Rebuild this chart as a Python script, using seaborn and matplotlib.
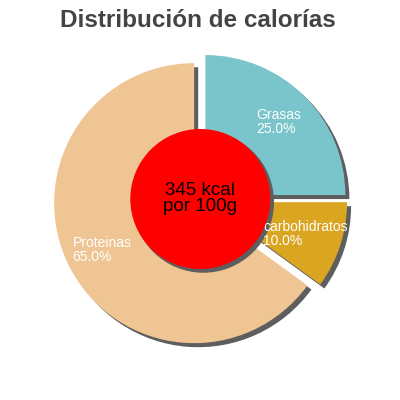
import matplotlib
matplotlib.use("Agg")
import matplotlib.pyplot as plt
import matplotlib.patches as mpatches
import seaborn as sns

# chart data
categories = ["Proteinas", "carbohidratos", "Grasas"]
percentages = [65.0, 10.0, 25.0]
slice_colors = ["#efc593", "#daa520", "#7ac4cc"]
center_text = "345 kcal\npor 100g"
title_text = "Distribución de calorías"

sns.set_theme(style="white")
plt.rcParams['font.family'] = ['Liberation Sans', 'DejaVu Sans']

fig = plt.figure(figsize=(4, 4), dpi=100)
ax = fig.add_axes([0, 0, 1, 1])

shadow_gray = "#5e5e5e"
labels = [f"{c}\n{p:.1f}%" for c, p in zip(categories, percentages)]

wedges, texts = ax.pie(
    percentages,
    labels=labels,
    colors=slice_colors,
    startangle=90,
    explode=[7, 7, 7],
    radius=140,
    center=(200.4, 200),
    labeldistance=0.74,
    frame=True,
    shadow={'ox': 2.9, 'oy': -2.9, 'facecolor': shadow_gray,
            'edgecolor': shadow_gray, 'alpha': 1},
    wedgeprops={'linewidth': 0},
    textprops={'color': 'white', 'fontsize': 10, 'ha': 'center',
               'va': 'center', 'multialignment': 'left', 'linespacing': 1.05},
)

# red disc in the middle with its own shadow
disc = mpatches.Circle((200.3, 201), 70, facecolor="#ff0000", edgecolor="none", zorder=3)
ax.add_patch(disc)
ax.add_patch(mpatches.Shadow(disc, 2.2, -2.2, facecolor=shadow_gray,
                             edgecolor=shadow_gray, alpha=1))
ax.text(200.3, 201.5, center_text, ha='center', va='center', fontsize=13.5,
        color='black', linespacing=0.95, zorder=4)

ax.set_xlim(0, 400)
ax.set_ylim(0, 400)
ax.set_aspect('equal')
ax.axis('off')

fig.text(0.495, 1 - 27 / 400, title_text, ha='center', va='baseline',
         fontsize=17.5, fontweight='bold', color='#444444')

fig.savefig("out.png", dpi=100, facecolor='white')
